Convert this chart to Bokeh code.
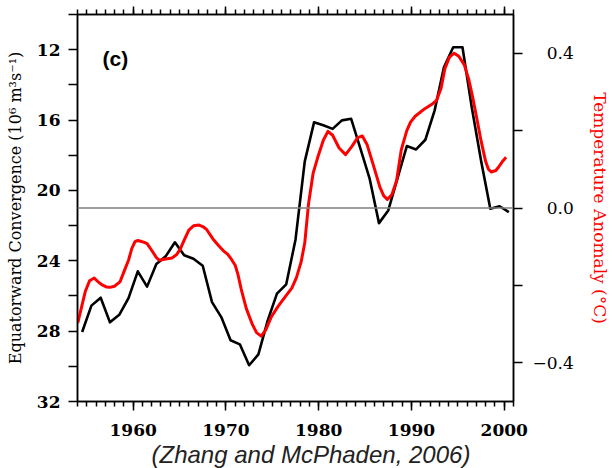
import numpy as np
from bokeh.plotting import figure
from bokeh.models import Range1d, LinearAxis, FixedTicker, Span, Label, Title, CustomJSTickFormatter
from bokeh.embed import file_html
from bokeh.resources import INLINE

# ---- data ----
years = list(range(1954, 2001))
convergence = [28.05, 26.55, 26.1, 27.5, 27.07, 26.12, 24.6, 25.47, 24.18, 23.75,
               22.95, 23.69, 23.88, 24.28, 26.35, 27.2, 28.52, 28.75, 29.94, 29.32,
               27.4, 25.87, 25.34, 22.8, 18.35, 16.13, 16.3, 16.5, 16.02, 15.93,
               17.63, 19.35, 21.86, 21.14, 19.3, 17.48, 17.67, 17.12, 15.45, 13.0,
               11.86, 11.86, 15.27, 18.3, 21.04, 20.9, 21.23]

temp_time = [1954.03, 1954.45, 1954.85, 1955.3, 1955.8, 1956.2, 1956.6, 1957.1, 1957.5,
             1958.0, 1958.6, 1959.0, 1959.5, 1959.85, 1960.2, 1960.5, 1960.8,
             1961.2, 1961.5, 1962.1, 1962.5, 1962.8, 1963.5, 1964.2, 1964.7, 1965.1,
             1965.5, 1966.0, 1966.5, 1967.1, 1967.5, 1967.9,
             1968.6, 1969.2, 1969.7, 1970.2, 1970.6, 1971.0, 1971.3, 1971.7, 1972.2,
             1972.8, 1973.3, 1973.8,
             1974.3, 1974.9, 1975.6, 1976.4, 1977.1, 1977.6, 1978.1, 1978.5, 1978.9,
             1979.4, 1979.9, 1980.5, 1981.0, 1981.5, 1982.2, 1982.9, 1983.6, 1984.2,
             1984.7, 1985.2, 1985.9, 1986.6, 1987.0, 1987.4, 1987.9, 1988.4, 1988.9,
             1989.5, 1989.9, 1990.4, 1991.4, 1992.2, 1992.7, 1993.2, 1993.6, 1994.1,
             1994.6, 1995.1, 1995.7, 1996.2, 1996.6, 1997.1, 1997.5, 1998.0, 1998.3,
             1998.6, 1999.1, 1999.4, 1999.8, 2000.2]
temp_anom = [-0.297, -0.255, -0.215, -0.188, -0.181, -0.19, -0.198, -0.204, -0.205,
             -0.202, -0.19, -0.165, -0.135, -0.105, -0.087, -0.084, -0.086,
             -0.089, -0.092, -0.113, -0.128, -0.135, -0.132, -0.129, -0.12, -0.105,
             -0.083, -0.057, -0.046, -0.044, -0.048, -0.055,
             -0.08, -0.097, -0.11, -0.12, -0.133, -0.148, -0.172, -0.215, -0.26,
             -0.298, -0.322, -0.331,
             -0.315, -0.281, -0.255, -0.229, -0.207, -0.18, -0.14, -0.09, 0.01,
             0.09, 0.131, 0.175, 0.198, 0.188, 0.155, 0.138, 0.16, 0.182,
             0.186, 0.165, 0.11, 0.054, 0.032, 0.022, 0.035, 0.071, 0.15,
             0.2, 0.222, 0.237, 0.256, 0.268, 0.278, 0.31, 0.36, 0.39,
             0.40, 0.392, 0.37, 0.33, 0.286, 0.225, 0.174, 0.12, 0.1,
             0.093, 0.097, 0.106, 0.12, 0.131]

x_major = [1960, 1970, 1980, 1990, 2000]
x_minor = list(range(1954, 2002))
left_major = [12, 16, 20, 24, 28, 32]
left_minor = [10, 14, 18, 22, 26, 30]
right_major = [-0.4, 0.0, 0.4]
right_minor = [-0.2, 0.2]

SERIF = "DejaVu Serif"

p = figure(width=612, height=468, x_range=Range1d(1954, 2001), y_range=Range1d(32, 10),
           output_backend="svg", toolbar_location=None,
           min_border_left=77, min_border_right=93, min_border_top=14, min_border_bottom=67)
p.extra_y_ranges = {"temp": Range1d(-0.5, 0.5)}
p.xgrid.visible = False
p.ygrid.visible = False
p.outline_line_color = "black"
p.outline_line_width = 1.5
p.background_fill_color = "white"
p.border_fill_color = "white"

def style_axis(ax):
    ax.axis_line_color = "black"
    ax.axis_line_width = 1.5
    ax.major_tick_line_color = "black"
    ax.minor_tick_line_color = "black"
    ax.major_tick_line_width = 1.5
    ax.minor_tick_line_width = 1.5
    ax.major_tick_in = 0
    ax.minor_tick_in = 0
    ax.major_label_text_color = "black"
    ax.axis_label_text_color = "black"

# bottom axis
xa = p.xaxis[0]
xa.ticker = FixedTicker(ticks=x_major, minor_ticks=x_minor)
style_axis(xa)
xa.major_tick_out = 9
xa.minor_tick_out = 5
xa.major_label_text_font = SERIF
xa.major_label_text_font_style = "bold"
xa.major_label_text_font_size = "17px"
xa.major_label_standoff = 13

# top axis (ticks only)
ta = LinearAxis(ticker=FixedTicker(ticks=x_major, minor_ticks=x_minor))
style_axis(ta)
ta.major_tick_out = 8
ta.minor_tick_out = 5
ta.formatter = CustomJSTickFormatter(code="return '';")
ta.major_label_text_font_size = "1px"
ta.major_label_standoff = 0
p.add_layout(ta, "above")

# left axis
ya = p.yaxis[0]
ya.ticker = FixedTicker(ticks=left_major, minor_ticks=left_minor)
style_axis(ya)
ya.major_tick_out = 9
ya.minor_tick_out = 9
ya.major_label_text_font = SERIF
ya.major_label_text_font_style = "bold"
ya.major_label_text_font_size = "17px"
ya.major_label_standoff = 8
ya.axis_label = "Equatorward Convergence (10\u2076 m\u00b3s\u207b\u00b9)"
ya.axis_label_text_font = SERIF
ya.axis_label_text_font_style = "normal"
ya.axis_label_text_font_size = "16px"
ya.axis_label_standoff = 9

# right axis
ra = LinearAxis(y_range_name="temp", ticker=FixedTicker(ticks=right_major, minor_ticks=right_minor))
style_axis(ra)
ra.major_tick_out = 9
ra.minor_tick_out = 9
ra.formatter = CustomJSTickFormatter(code="""
if (Math.abs(tick) < 1e-9) return '\u2007\u2009' + '0.0';
if (tick < 0) return '\u2212' + Math.abs(tick).toFixed(1);
return '\u2007\u2009' + tick.toFixed(1);
""")
ra.major_label_text_font = SERIF
ra.major_label_text_font_size = "17px"
ra.major_label_standoff = 10
ra.axis_label = "Temperature Anomaly (\u00b0C)"
ra.axis_label_text_font = SERIF
ra.axis_label_text_font_style = "normal"
ra.axis_label_text_font_size = "17px"
ra.axis_label_text_color = "red"
ra.axis_label_standoff = 13
p.add_layout(ra, "right")

p.add_layout(Span(location=21, dimension="width", line_color="#7f7f7f", line_width=1.5))

p.line([y + 0.5 for y in years], convergence, line_color="black", line_width=2.6, line_join="round")
p.line(temp_time, temp_anom, y_range_name="temp", line_color="red", line_width=3, line_join="round")

p.add_layout(Label(x=1956.7, y=12.5, text="(c)", text_font="Liberation Sans", text_font_style="bold",
                   text_font_size="21px", text_baseline="middle", text_color="black"))

cit = Title(text="(Zhang and McPhaden, 2006)", align="left", text_font="Liberation Sans",
            text_font_style="italic", text_font_size="24px", text_color="#222222", offset=74,
            text_line_height=1.0)
cit.standoff = 0
p.add_layout(cit, "below")

open("out.html", "w").write(file_html(p, INLINE))
